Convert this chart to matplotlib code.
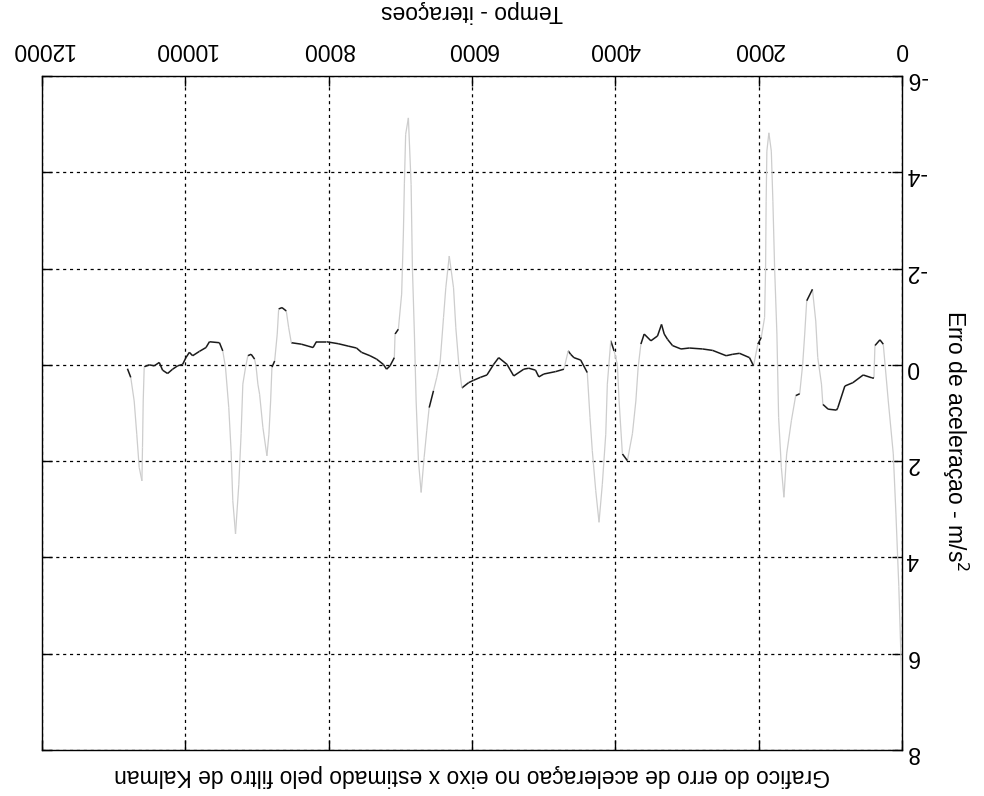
import numpy as np
import matplotlib
matplotlib.use("Agg")
import matplotlib.pyplot as plt
from matplotlib.collections import LineCollection

plt.rcParams['font.family'] = ['Liberation Sans', 'DejaVu Sans']
plt.rcParams['axes.unicode_minus'] = False

# ---- data ----
iteracoes = [0, 45, 85, 122, 192, 262, 308, 378, 392, 420, 542, 686, 798, 896, 914, 1031, 1105,
             1124, 1176, 1204, 1250, 1330, 1358, 1386, 1428, 1484, 1544, 1610, 1648, 1684, 1722,
             1746, 1778, 1802, 1824, 1858, 1886, 1896, 1904, 1918, 1964, 2012, 2072, 2128, 2268,
             2362, 2454, 2642, 2782, 2968, 3084, 3202, 3272, 3318, 3356, 3412, 3504, 3598, 3644,
             3682, 3714, 3762, 3832, 3902, 3948, 3972, 4018, 4064, 4112, 4134, 4182, 4228, 4274,
             4322, 4354, 4392, 4484, 4578, 4624, 4658, 4718, 4834, 4998, 5068, 5114, 5208, 5278,
             5418, 5512, 5628, 5698, 5792, 5884, 5978, 6048, 6142, 6188, 6226, 6258, 6318, 6366,
             6398, 6444, 6492, 6538, 6598, 6632, 6668, 6710, 6748, 6780, 6804, 6832, 6850, 6888,
             6926, 6944, 6958, 6982, 7028, 7074, 7084, 7144, 7192, 7238, 7332, 7424, 7542, 7612,
             7728, 7868, 8032, 8172, 8218, 8288, 8382, 8522, 8558, 8592, 8652, 8698, 8718, 8754,
             8792, 8810, 8834, 8862, 8918, 8964, 8988, 9012, 9034, 9082, 9128, 9160, 9198, 9222,
             9254, 9300, 9338, 9362, 9394, 9440, 9478, 9524, 9664, 9712, 9804, 9898, 9944, 9992,
             10038, 10108, 10178, 10248, 10318, 10364, 10434, 10504, 10574, 10588, 10598, 10606,
             10644, 10678, 10714, 10762, 10808]
erro = [6.8, 4.6, 3.1, 1.85, 0.75, -0.43, -0.52, -0.40, 0.27, 0.27, 0.21, 0.37, 0.44, 0.89, 0.94,
        0.92, 0.82, 0.40, -0.15, -0.91, -1.57, -1.33, -0.64, -0.02, 0.60, 0.64, 1.16, 1.85, 2.75,
        2.13, 1.09, -0.64, -2.02, -3.40, -4.44, -4.82, -4.44, -3.40, -2.00, -0.98, -0.57, -0.43,
        0.02, -0.15, -0.24, -0.22, -0.19, -0.30, -0.33, -0.35, -0.33, -0.40, -0.53, -0.64, -0.84,
        -0.60, -0.50, -0.64, -0.43, 0.05, 0.75, 1.43, 1.99, 1.85, 0.75, -0.01, -0.29, -0.50, 0.40,
        1.44, 2.48, 3.27, 2.61, 1.78, 1.09, 0.16, -0.10, -0.15, -0.22, -0.29, 0.09, 0.14, 0.19,
        0.25, 0.11, 0.07, 0.09, 0.23, -0.01, -0.15, -0.01, 0.21, 0.26, 0.32, 0.37, 0.48, -0.08,
        -0.77, -1.60, -2.26, -1.60, -0.98, -0.08, 0.26, 0.54, 0.89, 1.37, 1.92, 2.65, 1.99, 0.75,
        -0.64, -2.02, -3.75, -5.13, -4.79, -3.76, -2.72, -1.47, -0.74, -0.64, -0.15, 0.02, 0.09,
        -0.01, -0.12, -0.19, -0.26, -0.35, -0.39, -0.44, -0.48, -0.48, -0.36, -0.39, -0.43, -0.46,
        -0.77, -1.12, -1.19, -1.16, -0.64, -0.08, 0.05, 0.75, 1.44, 1.89, 1.30, 0.61, 0.40, 0.05,
        -0.12, -0.22, -0.19, 0.05, 0.40, 1.43, 2.48, 3.51, 2.82, 1.78, 0.89, 0.05, -0.29, -0.46,
        -0.48, -0.36, -0.28, -0.19, -0.26, -0.15, -0.01, 0.02, 0.09, 0.18, 0.11, -0.05, 0.02,
        0.00, 0.04, 0.75, 1.72, 2.41, 2.13, 1.44, 0.75, 0.26, 0.08]

x_ticks = [0, 2000, 4000, 6000, 8000, 10000, 12000]
y_ticks = [-6, -4, -2, 0, 2, 4, 6, 8]

titulo = "Grafico do erro de aceleraçao no eixo x estimado pelo filtro de Kalman"
rotulo_x = "Tempo - iteraçoes"
rotulo_y = "Erro de aceleraçao - m/s$^2$"

# ---- figure ----
fig = plt.figure(figsize=(9.84, 7.96), dpi=100)
ax = fig.add_axes([0.0427, 0.0578, 0.874, 0.8467])

x = np.array(iteracoes, dtype=float)
y = np.array(erro, dtype=float)
pts = np.column_stack([x, y]).reshape(-1, 1, 2)
segs = np.concatenate([pts[:-1], pts[1:]], axis=1)
slope = np.abs(np.diff(y)) / np.maximum(np.diff(x), 1e-9)
cols = ['#cdcdcd' if s > 0.006 else '#1a1a1a' for s in slope]
lws = [0.9 if s > 0.006 else 1.1 for s in slope]
lc = LineCollection(segs, colors=cols, linewidths=lws, zorder=3)
ax.add_collection(lc)

# picture is shown rotated by 180 degrees
ax.set_xlim(12000, 0)
ax.set_ylim(8, -6)
ax.set_xticks(x_ticks)
ax.set_yticks(y_ticks)
ax.set_xticklabels([str(v) for v in x_ticks], rotation=180)
ax.set_yticklabels([str(v) for v in y_ticks], rotation=180)

ax.tick_params(axis='both', direction='in', length=7, width=1.0, colors='black',
               labelsize=16.5, top=True, bottom=True, left=True, right=True)
ax.tick_params(axis='x', labeltop=True, labelbottom=False, pad=11)
ax.tick_params(axis='y', labelright=True, labelleft=False, pad=3)

ax.grid(True, color='black', linestyle=(0, (2.5, 3)), linewidth=0.9)
for sp in ax.spines.values():
    sp.set_linewidth(1.0)
    sp.set_color('black')

fig.text(0.48, 0.026, titulo, rotation=180, ha='center', va='center', fontsize=16.5)
fig.text(0.48, 0.985, rotulo_x, rotation=180, ha='center', va='center', fontsize=16.5)
fig.text(0.971, 0.447, rotulo_y, rotation=270, ha='center', va='center', fontsize=16.5)

fig.savefig("out.png", dpi=100, facecolor='white')
